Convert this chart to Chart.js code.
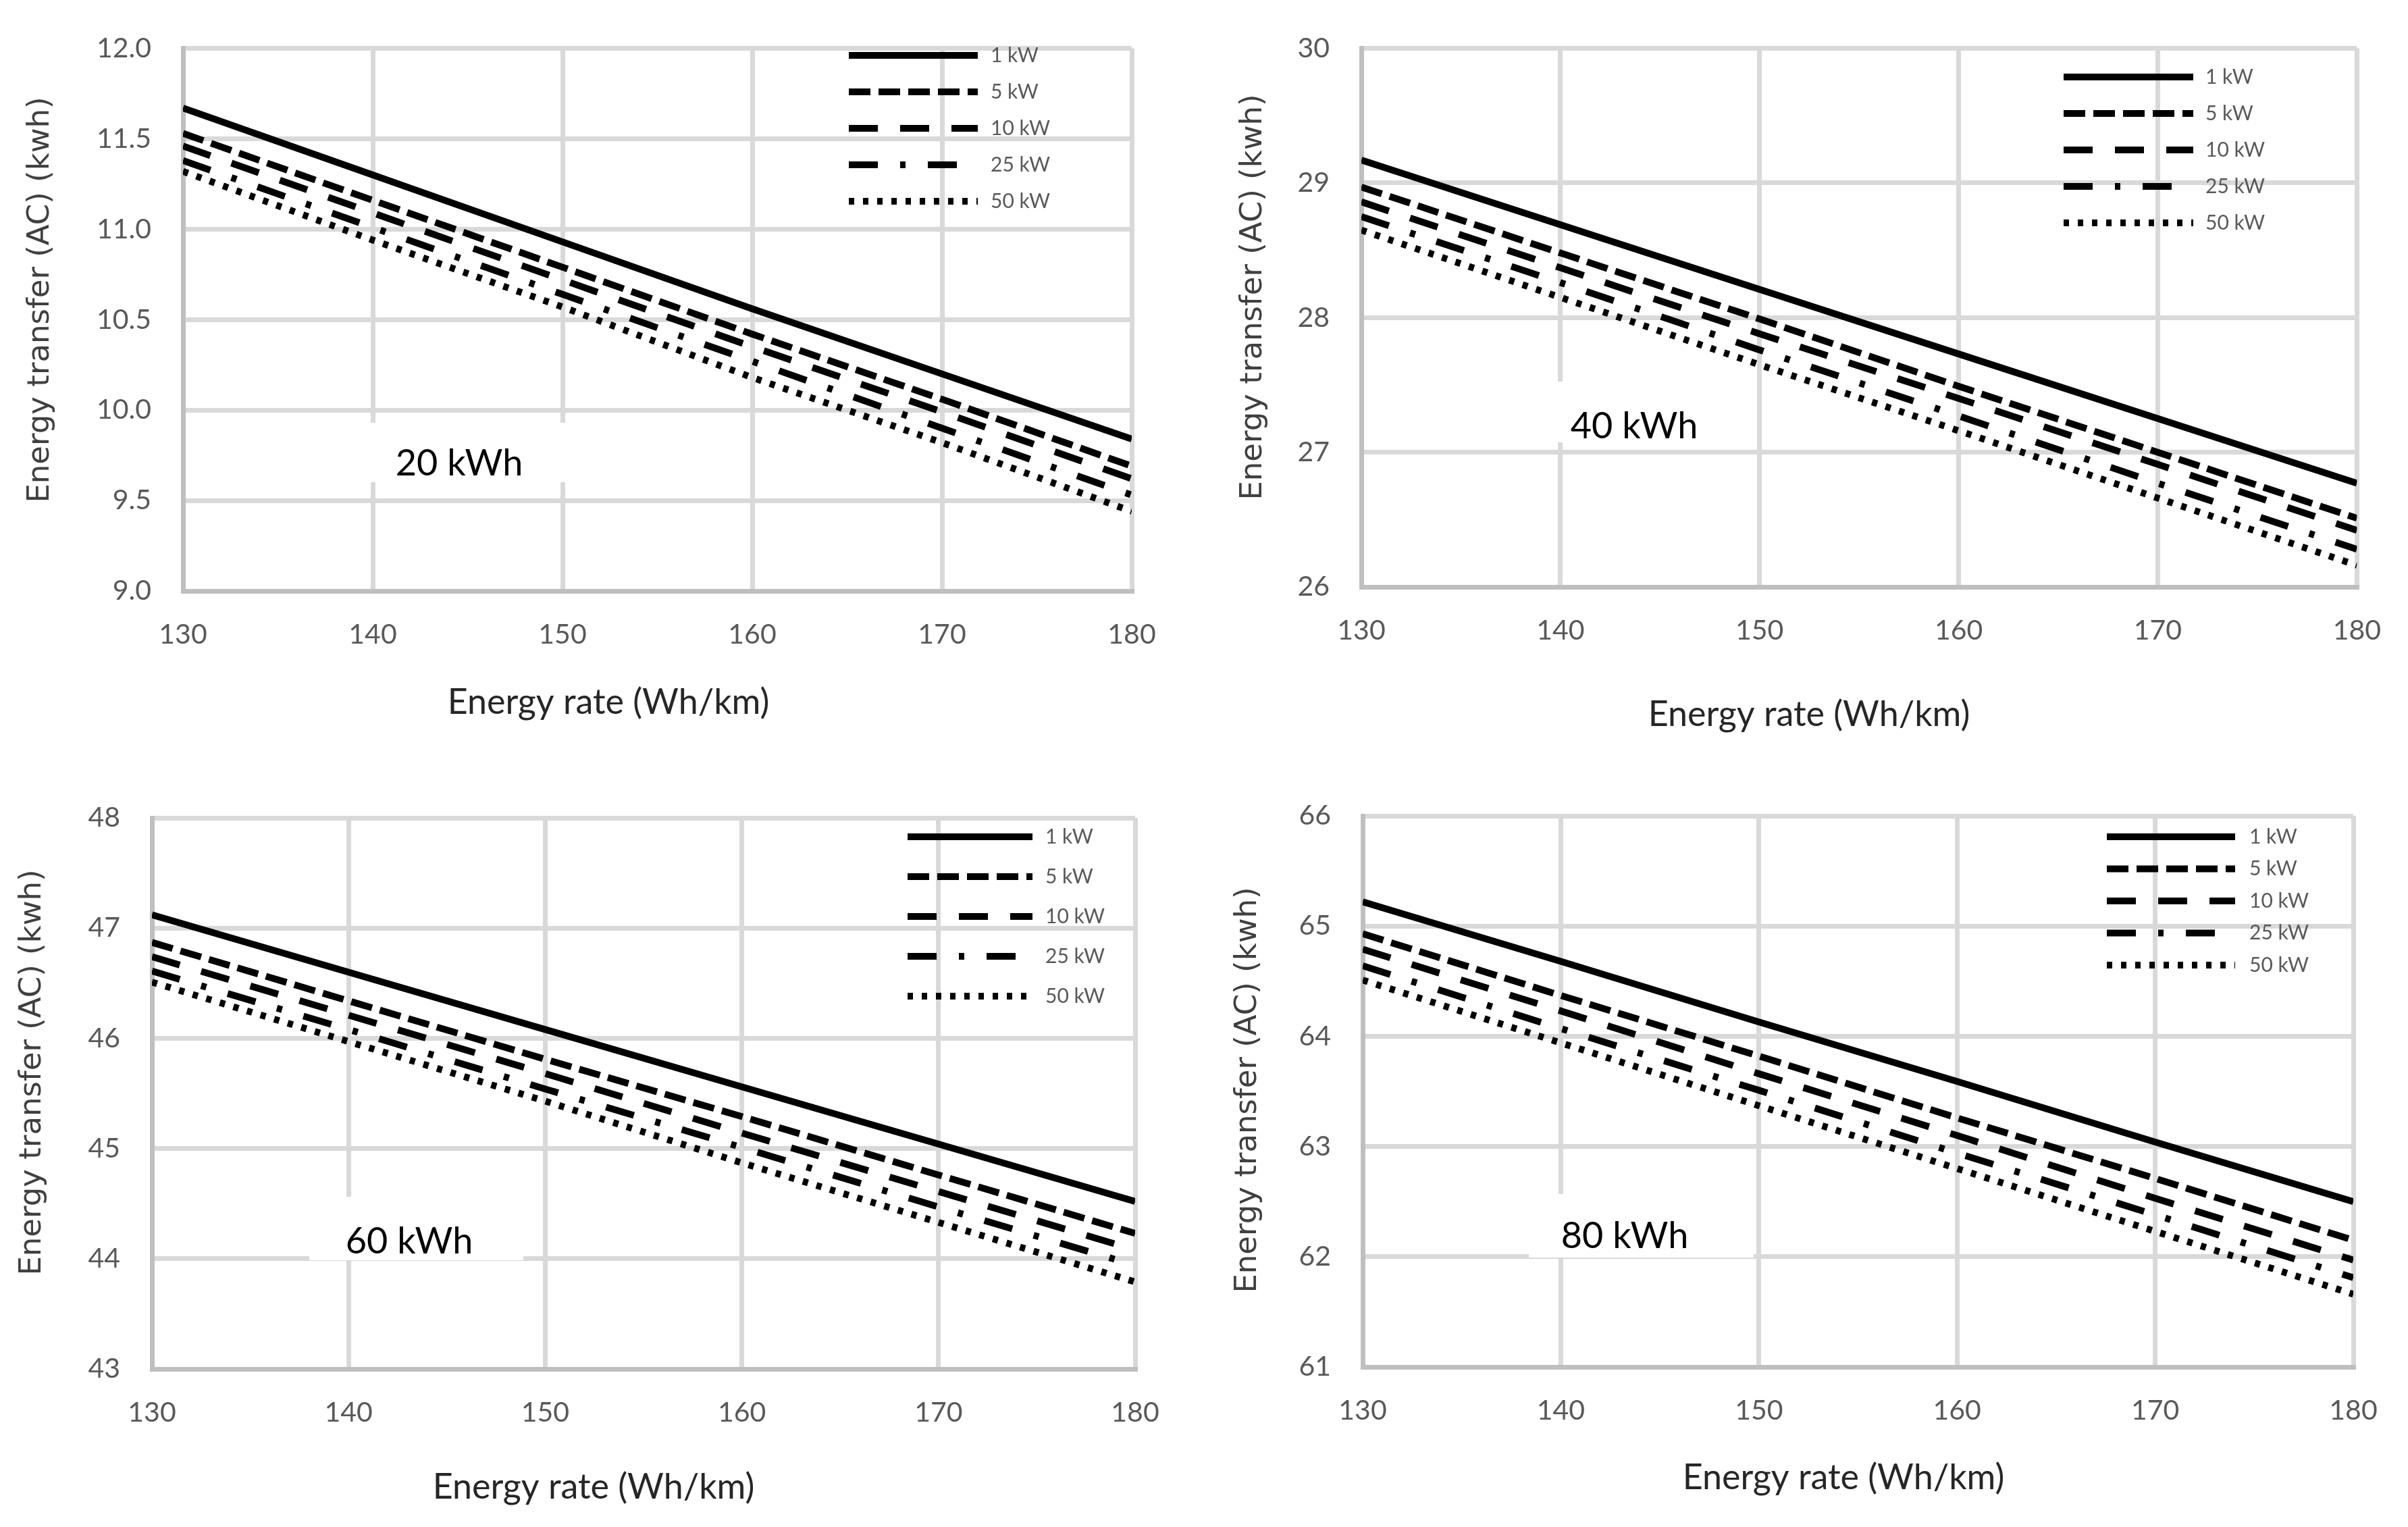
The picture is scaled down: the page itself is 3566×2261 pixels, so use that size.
<!DOCTYPE html>
<html>
<head>
<meta charset="utf-8">
<script src="https://cdn.jsdelivr.net/npm/chart.js@4.4.1/dist/chart.umd.min.js"></script>
<style>
  html, body { margin: 0; padding: 0; background: #fff; }
  body { width: 3566px; height: 2261px; position: relative; overflow: hidden; }
  canvas { position: absolute; }
</style>
</head>
<body>
<canvas id="graph-1" width="1783" height="1130" style="left:0;top:0;width:1783px;height:1130px"></canvas>
<canvas id="graph-2" width="1783" height="1130" style="left:1783px;top:0;width:1783px;height:1130px"></canvas>
<canvas id="graph-3" width="1783" height="1131" style="left:0;top:1130px;width:1783px;height:1131px"></canvas>
<canvas id="graph-4" width="1783" height="1131" style="left:1783px;top:1130px;width:1783px;height:1131px"></canvas>
<script>
// x axis: energy rate (Wh/km)
const rates = [130, 140, 150, 160, 170, 180];
const powers = ["1 kW", "5 kW", "10 kW", "25 kW", "50 kW"];
const batteries = ["20 kWh", "40 kWh", "60 kWh", "80 kWh"];

// y tick labels of each panel
const yTicks20 = [9.0, 9.5, 10.0, 10.5, 11.0, 11.5, 12.0];
const yTicks40 = [26, 27, 28, 29, 30];
const yTicks60 = [43, 44, 45, 46, 47, 48];
const yTicks80 = [61, 62, 63, 64, 65, 66];

// 20 kWh battery
const e20_1kW  = [11.67, 11.30, 10.93, 10.56, 10.20, 9.84];
const e20_5kW  = [11.53, 11.16, 10.79, 10.42, 10.06, 9.69];
const e20_10kW = [11.46, 11.09, 10.72, 10.35, 9.99, 9.62];
const e20_25kW = [11.38, 11.01, 10.64, 10.27, 9.90, 9.53];
const e20_50kW = [11.32, 10.94, 10.57, 10.18, 9.82, 9.44];

// 40 kWh battery
const e40_1kW  = [29.17, 28.69, 28.21, 27.73, 27.25, 26.77];
const e40_5kW  = [28.97, 28.48, 27.99, 27.49, 27.00, 26.51];
const e40_10kW = [28.86, 28.37, 27.88, 27.40, 26.91, 26.42];
const e40_25kW = [28.75, 28.26, 27.76, 27.27, 26.77, 26.28];
const e40_50kW = [28.65, 28.15, 27.65, 27.16, 26.66, 26.16];

// 60 kWh battery
const e60_1kW  = [47.12, 46.60, 46.08, 45.56, 45.04, 44.52];
const e60_5kW  = [46.87, 46.34, 45.81, 45.29, 44.76, 44.23];
const e60_10kW = [46.74, 46.21, 45.68, 45.14, 44.61, 44.08];
const e60_25kW = [46.61, 46.08, 45.54, 45.01, 44.47, 43.94];
const e60_50kW = [46.51, 45.97, 45.43, 44.87, 44.33, 43.79];

// 80 kWh battery
const e80_1kW  = [65.22, 64.68, 64.13, 63.59, 63.04, 62.50];
const e80_5kW  = [64.93, 64.37, 63.82, 63.26, 62.71, 62.15];
const e80_10kW = [64.79, 64.23, 63.66, 63.10, 62.53, 61.97];
const e80_25kW = [64.64, 64.07, 63.51, 62.94, 62.38, 61.81];
const e80_50kW = [64.51, 63.94, 63.37, 62.80, 62.23, 61.66];

// line styles, one per charging power
const dashes = [[], [32, 12], [43, 33], [43, 33, 8, 33], [8, 13]];

const tickFont = { family: "Lato", size: 41 };
const tickColor = "#595959";

// page layout of each panel (px in the page)
const panels = [
  { id: "graph-1", ox: 0, oy: 0, w: 1783, h: 1130, plot: [271, 59, 1676, 875],
    xTitle: [901, 1040], yTitle: [60, 444],
    leg: { x1: 1257, x2: 1448, tx: 1467, y0: 82, dy: 54 },
    note: [680, 687], box: [530, 626, 860, 714] },
  { id: "graph-2", ox: 1783, oy: 0, w: 1783, h: 1130, plot: [2016, 56, 3495, 869],
    xTitle: [2679, 1058], yTitle: [1856, 440],
    leg: { x1: 3056, x2: 3248, tx: 3266, y0: 114, dy: 54 },
    note: [2420, 632], box: [2290, 565, 2560, 655] },
  { id: "graph-3", ox: 0, oy: 1130, w: 1783, h: 1131, plot: [225, 1211, 1681, 2027],
    xTitle: [879, 2202], yTitle: [48, 1588],
    leg: { x1: 1344, x2: 1529, tx: 1548, y0: 1239, dy: 59 },
    note: [606, 1839], box: [458, 1772, 775, 1866] },
  { id: "graph-4", ox: 1783, oy: 1130, w: 1783, h: 1131, plot: [2018, 1208, 3485, 2024],
    xTitle: [2730, 2188], yTitle: [1848, 1614],
    leg: { x1: 3120, x2: 3310, tx: 3331, y0: 1239, dy: 47.5 },
    note: [2406, 1831], box: [2264, 1768, 2597, 1862] },
];

function extras(p, note) {
  const X = (v) => v - p.ox;
  const Y = (v) => v - p.oy;
  return {
    id: "extras",
    beforeDatasetsDraw(chart) {
      const c = chart.ctx;
      c.save();
      c.fillStyle = "#fff";
      c.fillRect(X(p.box[0]), Y(p.box[1]), p.box[2] - p.box[0], p.box[3] - p.box[1]);
      c.fillStyle = "#000";
      c.font = "54px Lato";
      c.textAlign = "center";
      c.textBaseline = "middle";
      c.fillText(note, X(p.note[0]), Y(p.note[1]));
      c.restore();
    },
    afterDraw(chart) {
      const c = chart.ctx;
      c.save();
      // axis titles
      c.fillStyle = "#262626";
      c.font = "52px Lato";
      c.textAlign = "center";
      c.textBaseline = "middle";
      c.fillText("Energy rate (Wh/km)", X(p.xTitle[0]), Y(p.xTitle[1]));
      c.save();
      c.translate(X(p.yTitle[0]), Y(p.yTitle[1]));
      c.rotate(-Math.PI / 2);
      c.fillStyle = "#404040";
      c.font = "45px 'DejaVu Sans'";
      c.fillText("Energy transfer (AC) (kwh)", 0, 0);
      c.restore();
      // legend
      c.font = "30px Lato";
      c.textAlign = "left";
      chart.data.datasets.forEach((ds, i) => {
        const y = Y(p.leg.y0 + i * p.leg.dy);
        c.strokeStyle = "#000";
        c.lineWidth = 10;
        c.setLineDash(ds.borderDash);
        c.beginPath();
        c.moveTo(X(p.leg.x1), y);
        c.lineTo(X(p.leg.x2), y);
        c.stroke();
        c.fillStyle = tickColor;
        c.fillText(ds.label, X(p.leg.tx), y);
      });
      c.restore();
    },
  };
}

function makeChart(p, note, yTicks, decimals, series) {
  const ctx = document.getElementById(p.id).getContext("2d");
  return new Chart(ctx, {
    type: "line",
    data: {
      datasets: series.map((vals, i) => ({
        label: powers[i],
        data: rates.map((r, j) => ({ x: r, y: vals[j] })),
        borderColor: "#000",
        borderWidth: 10,
        borderDash: dashes[i],
        pointRadius: 0,
        tension: 0,
        fill: false,
      })),
    },
    options: {
      responsive: false,
      animation: false,
      devicePixelRatio: 1,
      layout: {
        padding: { left: 0, top: p.plot[1] - p.oy, right: p.ox + p.w - p.plot[2], bottom: 0 },
      },
      plugins: { legend: { display: false }, tooltip: { enabled: false } },
      scales: {
        x: {
          type: "linear",
          min: rates[0],
          max: rates[rates.length - 1],
          ticks: { stepSize: rates[1] - rates[0], color: tickColor, font: tickFont, padding: 40 },
          grid: { color: "#d9d9d9", lineWidth: 7, drawTicks: false },
          border: { color: "#bfbfbf", width: 7 },
          afterFit: (s) => { s.height = p.oy + p.h - p.plot[3]; },
        },
        y: {
          min: yTicks[0],
          max: yTicks[yTicks.length - 1],
          ticks: {
            stepSize: yTicks[1] - yTicks[0],
            color: tickColor,
            font: tickFont,
            padding: 47,
            callback: (v) => Number(v).toFixed(decimals),
          },
          grid: { color: "#d9d9d9", lineWidth: 7, drawTicks: false },
          border: { color: "#bfbfbf", width: 7 },
          afterFit: (s) => { s.width = p.plot[0] - p.ox; },
        },
      },
    },
    plugins: [extras(p, note)],
  });
}

makeChart(panels[0], batteries[0], yTicks20, 1, [e20_1kW, e20_5kW, e20_10kW, e20_25kW, e20_50kW]);
makeChart(panels[1], batteries[1], yTicks40, 0, [e40_1kW, e40_5kW, e40_10kW, e40_25kW, e40_50kW]);
makeChart(panels[2], batteries[2], yTicks60, 0, [e60_1kW, e60_5kW, e60_10kW, e60_25kW, e60_50kW]);
makeChart(panels[3], batteries[3], yTicks80, 0, [e80_1kW, e80_5kW, e80_10kW, e80_25kW, e80_50kW]);
</script>
</body>
</html>
